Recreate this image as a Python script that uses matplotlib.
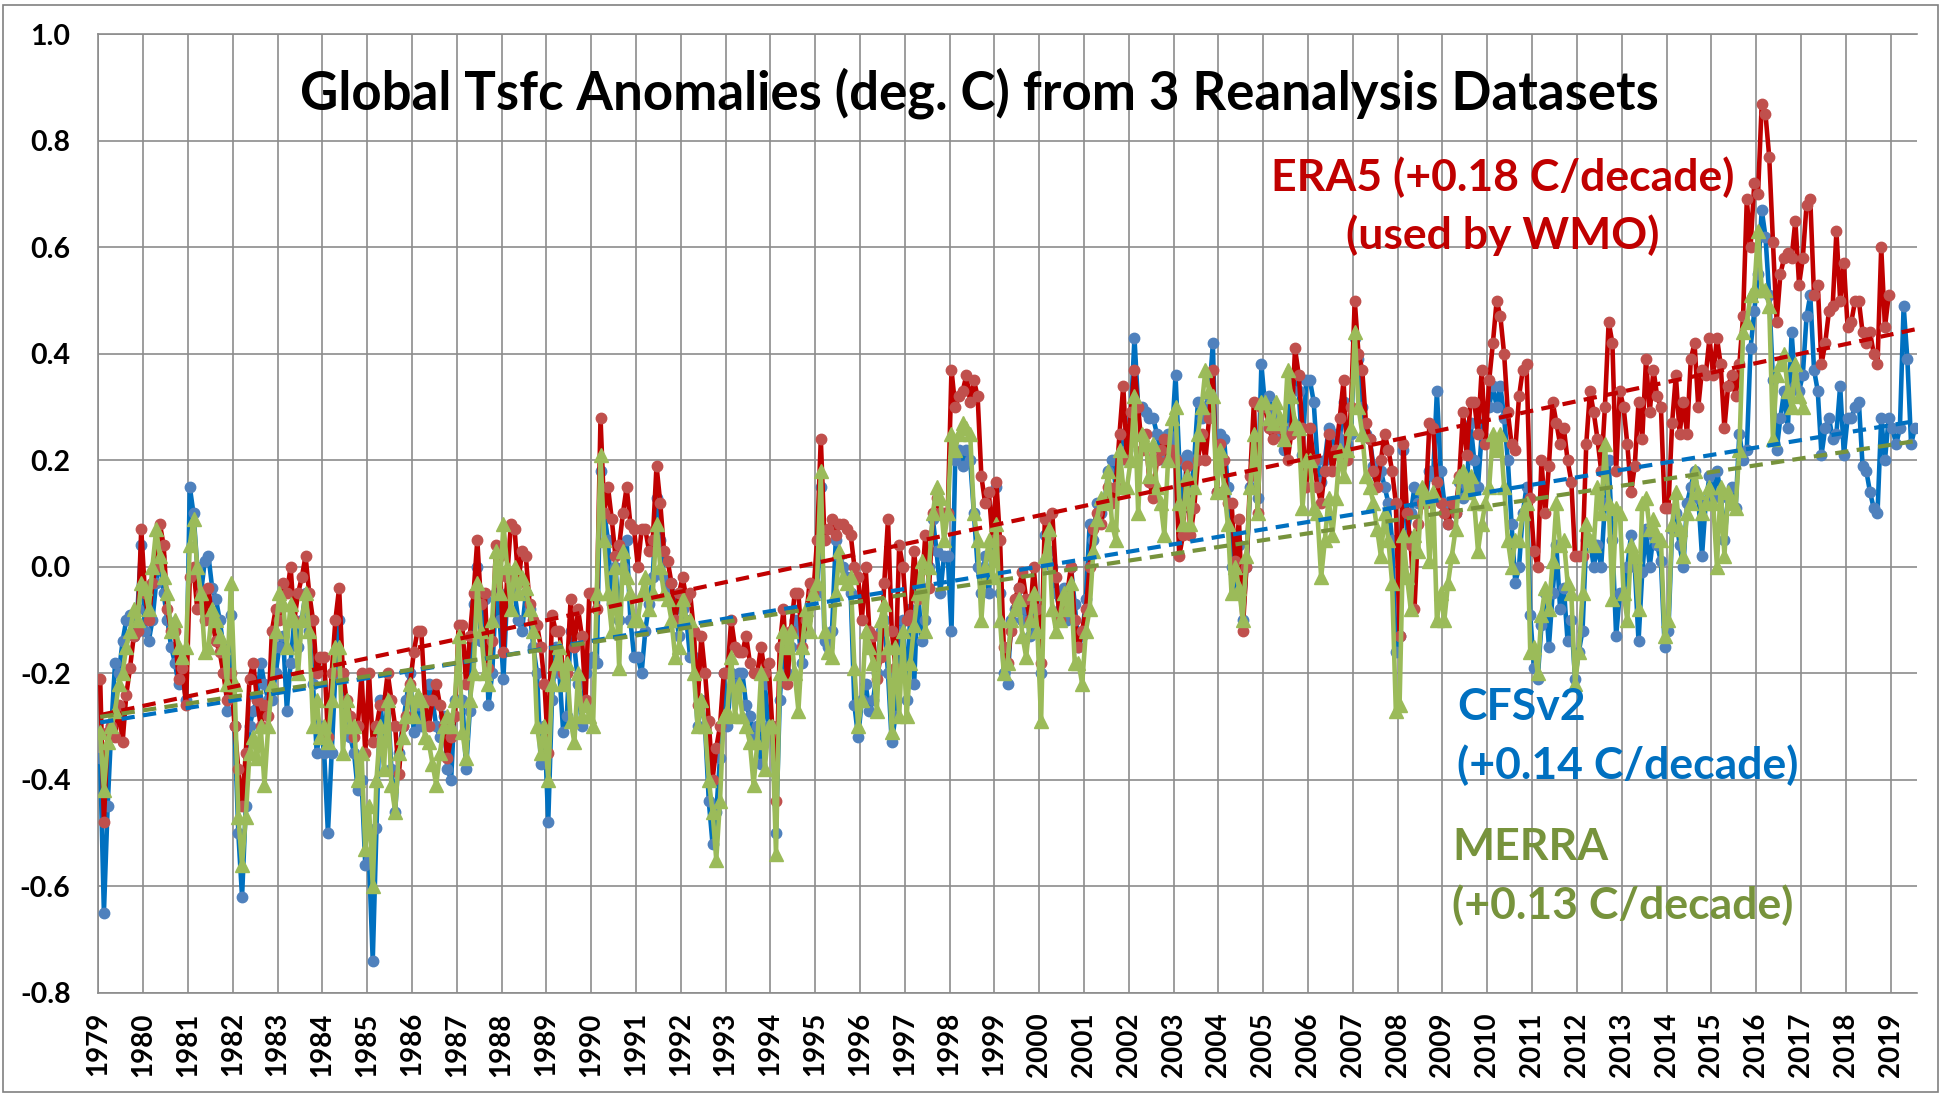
import numpy as np
import matplotlib.pyplot as plt
from matplotlib.patches import Rectangle

plt.rcParams['font.family'] = ['Lato', 'DejaVu Sans']
plt.rcParams['axes.unicode_minus'] = False

# monthly anomalies (deg C), one row per year starting Jan 1979
era5 = [
    -0.21, -0.48, -0.31, -0.30, -0.32, -0.26, -0.33, -0.24, -0.19, -0.13, -0.12, 0.07,
    -0.05, -0.10, -0.03, 0.00, 0.08, 0.04, -0.08, -0.12, -0.12, -0.21, -0.19, -0.26,
    -0.02, 0.00, -0.08, -0.05, -0.10, -0.04, -0.10, -0.14, -0.16, -0.20, -0.25, -0.20,
    -0.30, -0.38, -0.45, -0.35, -0.21, -0.18, -0.25, -0.30, -0.26, -0.28, -0.12, -0.08,
    -0.10, -0.03, -0.05, 0.00, -0.10, -0.05, -0.02, 0.02, -0.05, -0.10, -0.20, -0.17,
    -0.17, -0.32, -0.20, -0.10, -0.04, -0.20, -0.25, -0.28, -0.32, -0.30, -0.20, -0.35,
    -0.20, -0.33, -0.30, -0.26, -0.26, -0.20, -0.25, -0.30, -0.39, -0.30, -0.28, -0.22,
    -0.16, -0.12, -0.12, -0.25, -0.30, -0.25, -0.22, -0.26, -0.30, -0.36, -0.32, -0.28,
    -0.11, -0.11, -0.22, -0.13, -0.05, 0.05, -0.07, -0.05, -0.19, -0.14, 0.04, 0.02,
    -0.16, -0.02, 0.08, 0.07, -0.03, 0.03, 0.02, -0.07, -0.10, -0.11, -0.15, -0.22,
    -0.35, -0.09, -0.12, -0.12, -0.20, -0.20, -0.06, -0.15, -0.08, -0.13, -0.25, -0.05,
    -0.05, -0.08, 0.28, 0.10, 0.15, 0.09, 0.02, 0.04, 0.10, 0.15, 0.08, 0.07,
    0.00, 0.07, 0.07, 0.03, 0.05, 0.19, 0.12, 0.03, 0.01, -0.03, -0.10, -0.05,
    -0.02, -0.06, -0.05, -0.12, -0.26, -0.13, -0.20, -0.29, -0.40, -0.34, -0.30, -0.20,
    -0.20, -0.10, -0.15, -0.16, -0.16, -0.13, -0.18, -0.20, -0.20, -0.15, -0.20, -0.18,
    -0.30, -0.44, -0.15, -0.08, -0.22, -0.12, -0.05, -0.05, -0.15, -0.10, -0.03, -0.05,
    0.05, 0.24, 0.05, 0.07, 0.09, 0.06, 0.08, 0.08, 0.07, 0.06, 0.00, -0.02,
    -0.10, 0.00, -0.12, -0.13, -0.21, -0.17, -0.03, 0.09, -0.12, -0.19, 0.04, 0.00,
    -0.10, -0.09, 0.03, -0.06, -0.04, 0.06, -0.04, 0.10, 0.13, 0.10, 0.10, 0.10,
    0.37, 0.30, 0.32, 0.33, 0.36, 0.31, 0.35, 0.32, 0.17, 0.12, 0.14, 0.05,
    0.16, 0.05, -0.15, -0.18, -0.12, -0.06, -0.04, -0.01, -0.06, -0.10, 0.00, -0.08,
    -0.18, 0.09, 0.06, 0.10, -0.02, -0.10, -0.08, -0.05, 0.00, -0.10, -0.15, -0.12,
    -0.08, 0.00, 0.07, 0.10, 0.08, 0.12, 0.15, 0.12, 0.15, 0.25, 0.34, 0.20,
    0.29, 0.37, 0.30, 0.22, 0.25, 0.16, 0.13, 0.20, 0.22, 0.24, 0.20, 0.22,
    0.20, 0.02, 0.06, 0.19, 0.06, 0.11, 0.20, 0.25, 0.20, 0.28, 0.37, 0.14,
    0.23, 0.20, 0.12, 0.12, 0.01, 0.09, -0.12, 0.00, 0.17, 0.31, 0.10, 0.30,
    0.30, 0.26, 0.24, 0.26, 0.26, 0.24, 0.20, 0.25, 0.41, 0.36, 0.26, 0.15,
    0.26, 0.20, 0.15, 0.12, 0.18, 0.25, 0.18, 0.22, 0.28, 0.35, 0.20, 0.30,
    0.50, 0.40, 0.37, 0.27, 0.24, 0.18, 0.15, 0.20, 0.25, 0.22, 0.18, 0.12,
    -0.13, 0.23, 0.10, 0.04, -0.08, 0.08, 0.12, 0.12, 0.27, 0.26, 0.16, 0.12,
    0.10, 0.08, 0.12, 0.10, 0.17, 0.29, 0.21, 0.31, 0.31, 0.25, 0.37, 0.23,
    0.35, 0.42, 0.50, 0.47, 0.40, 0.29, 0.23, 0.22, 0.32, 0.37, 0.38, 0.13,
    0.03, 0.00, 0.20, 0.10, 0.19, 0.31, 0.27, 0.23, 0.26, 0.20, 0.16, 0.02,
    0.02, 0.02, 0.23, 0.33, 0.29, 0.24, 0.18, 0.30, 0.46, 0.42, 0.18, 0.33,
    0.30, 0.23, 0.14, 0.19, 0.31, 0.24, 0.39, 0.29, 0.37, 0.32, 0.30, 0.11,
    0.11, 0.27, 0.36, 0.25, 0.31, 0.25, 0.39, 0.42, 0.30, 0.37, 0.36, 0.43,
    0.36, 0.43, 0.38, 0.26, 0.34, 0.36, 0.32, 0.38, 0.47, 0.69, 0.60, 0.72,
    0.70, 0.87, 0.85, 0.77, 0.61, 0.46, 0.55, 0.58, 0.59, 0.58, 0.65, 0.53,
    0.58, 0.68, 0.69, 0.51, 0.53, 0.38, 0.42, 0.48, 0.49, 0.63, 0.50, 0.57,
    0.45, 0.46, 0.50, 0.50, 0.44, 0.42, 0.44, 0.40, 0.38, 0.60, 0.45, 0.51,
]

cfsv2 = [
    -0.36, -0.65, -0.45, -0.30, -0.18, -0.20, -0.14, -0.10, -0.09, -0.13, -0.08, 0.04,
    -0.12, -0.14, -0.10, -0.03, 0.02, -0.05, -0.10, -0.15, -0.18, -0.22, -0.20, -0.25,
    0.15, 0.10, 0.00, -0.05, 0.01, 0.02, -0.04, -0.06, -0.10, -0.15, -0.27, -0.09,
    -0.30, -0.50, -0.62, -0.45, -0.30, -0.27, -0.25, -0.18, -0.22, -0.25, -0.25, -0.20,
    -0.15, -0.13, -0.27, -0.18, -0.10, -0.15, -0.10, -0.05, -0.12, -0.22, -0.35, -0.30,
    -0.35, -0.50, -0.35, -0.20, -0.10, -0.20, -0.30, -0.32, -0.35, -0.42, -0.40, -0.56,
    -0.55, -0.74, -0.49, -0.25, -0.33, -0.25, -0.38, -0.46, -0.35, -0.30, -0.25, -0.20,
    -0.31, -0.26, -0.30, -0.28, -0.22, -0.25, -0.30, -0.32, -0.28, -0.38, -0.40, -0.25,
    -0.25, -0.25, -0.38, -0.27, -0.07, 0.00, -0.14, -0.06, -0.26, -0.20, -0.05, -0.10,
    -0.21, -0.05, -0.02, -0.05, -0.10, -0.12, -0.05, -0.08, -0.15, -0.20, -0.37, -0.30,
    -0.48, -0.25, -0.15, -0.20, -0.31, -0.28, -0.12, -0.15, -0.22, -0.30, -0.20, -0.18,
    -0.17, -0.18, 0.18, 0.10, 0.05, -0.07, 0.00, -0.10, 0.00, 0.05, -0.10, -0.17,
    -0.17, -0.20, -0.12, -0.07, -0.02, 0.13, 0.05, -0.02, -0.04, -0.03, -0.08, -0.13,
    -0.08, -0.10, -0.17, -0.17, -0.30, -0.25, -0.30, -0.44, -0.52, -0.46, -0.36, -0.20,
    -0.30, -0.20, -0.22, -0.20, -0.20, -0.26, -0.28, -0.32, -0.30, -0.37, -0.22, -0.30,
    -0.30, -0.50, -0.25, -0.15, -0.20, -0.15, -0.10, -0.12, -0.18, -0.10, -0.07, -0.05,
    -0.05, 0.15, -0.14, -0.15, -0.12, 0.05, 0.02, 0.00, -0.02, -0.05, -0.26, -0.32,
    -0.25, -0.22, -0.27, -0.25, -0.20, -0.12, -0.10, -0.20, -0.33, -0.28, -0.12, -0.10,
    -0.25, -0.08, -0.22, -0.04, -0.14, -0.10, 0.00, 0.09, 0.03, -0.05, 0.02, 0.02,
    -0.12, 0.20, 0.22, 0.19, 0.22, 0.20, 0.10, 0.00, -0.05, 0.02, -0.05, 0.05,
    0.15, -0.05, -0.20, -0.22, -0.10, -0.08, -0.04, -0.10, -0.08, -0.13, -0.06, -0.12,
    -0.20, 0.06, 0.03, 0.00, -0.05, -0.08, -0.04, -0.10, 0.00, -0.07, -0.15, -0.13,
    -0.06, 0.08, 0.05, 0.12, 0.10, 0.12, 0.18, 0.20, 0.15, 0.20, 0.25, 0.22,
    0.28, 0.43, 0.30, 0.30, 0.29, 0.28, 0.28, 0.25, 0.22, 0.20, 0.25, 0.24,
    0.36, 0.20, 0.07, 0.21, 0.11, 0.20, 0.31, 0.28, 0.30, 0.32, 0.42, 0.14,
    0.25, 0.24, 0.15, 0.00, -0.05, 0.04, -0.10, 0.00, 0.15, 0.20, 0.13, 0.38,
    0.30, 0.32, 0.29, 0.28, 0.25, 0.22, 0.26, 0.33, 0.36, 0.33, 0.21, 0.35,
    0.35, 0.31, 0.20, 0.16, 0.20, 0.26, 0.22, 0.25, 0.24, 0.31, 0.23, 0.25,
    0.43, 0.39, 0.30, 0.25, 0.24, 0.19, 0.17, 0.18, 0.15, 0.12, 0.05, -0.16,
    -0.13, 0.22, 0.06, 0.10, 0.15, 0.12, 0.14, 0.12, 0.18, 0.17, 0.33, 0.18,
    0.12, 0.08, 0.11, 0.10, 0.16, 0.13, 0.15, 0.27, 0.20, 0.15, 0.25, 0.30,
    0.30, 0.34, 0.30, 0.34, 0.28, 0.20, 0.08, -0.03, 0.00, 0.10, 0.15, -0.09,
    -0.19, -0.21, -0.11, -0.05, -0.15, -0.05, 0.04, -0.08, -0.04, -0.14, -0.10, -0.21,
    -0.16, -0.12, 0.05, 0.05, 0.00, 0.04, 0.00, 0.12, 0.20, 0.05, -0.13, -0.05,
    -0.05, 0.00, 0.06, 0.00, -0.14, -0.01, 0.07, 0.00, 0.06, 0.04, 0.01, -0.15,
    -0.12, 0.07, 0.10, 0.04, 0.00, 0.12, 0.15, 0.18, 0.13, 0.02, 0.12, 0.17,
    0.13, 0.18, 0.14, 0.05, 0.13, 0.15, 0.11, 0.25, 0.20, 0.22, 0.41, 0.48,
    0.55, 0.67, 0.62, 0.51, 0.35, 0.22, 0.28, 0.33, 0.26, 0.44, 0.34, 0.33,
    0.36, 0.47, 0.51, 0.37, 0.33, 0.21, 0.26, 0.28, 0.24, 0.25, 0.34, 0.21,
    0.28, 0.28, 0.30, 0.31, 0.19, 0.18, 0.14, 0.11, 0.10, 0.28, 0.20, 0.28,
    0.26, 0.23, 0.26, 0.49, 0.39, 0.23, 0.26,
]

merra = [
    -0.31, -0.42, -0.33, -0.30, -0.27, -0.22, -0.20, -0.15, -0.12, -0.08, -0.10, -0.03,
    -0.04, -0.08, 0.00, 0.07, 0.02, -0.02, -0.05, -0.12, -0.10, -0.15, -0.17, -0.15,
    0.04, 0.09, 0.00, -0.05, -0.16, -0.15, -0.08, -0.10, -0.13, -0.15, -0.22, -0.03,
    -0.22, -0.47, -0.56, -0.47, -0.35, -0.32, -0.36, -0.30, -0.41, -0.30, -0.22, -0.12,
    -0.05, -0.07, -0.15, -0.07, -0.10, -0.20, -0.10, -0.05, -0.12, -0.30, -0.25, -0.32,
    -0.30, -0.33, -0.25, -0.15, -0.15, -0.35, -0.25, -0.30, -0.30, -0.40, -0.35, -0.53,
    -0.45, -0.60, -0.40, -0.30, -0.38, -0.25, -0.41, -0.46, -0.35, -0.32, -0.28, -0.22,
    -0.28, -0.24, -0.25, -0.32, -0.33, -0.37, -0.41, -0.35, -0.30, -0.28, -0.30, -0.25,
    -0.13, -0.31, -0.36, -0.25, -0.20, -0.03, -0.12, -0.20, -0.22, -0.10, 0.03, -0.05,
    0.08, 0.00, -0.08, 0.00, -0.05, -0.02, -0.04, -0.08, -0.12, -0.30, -0.35, -0.30,
    -0.40, -0.22, -0.18, -0.15, -0.22, -0.18, -0.29, -0.33, -0.20, -0.28, -0.26, -0.28,
    -0.30, -0.05, 0.21, 0.05, -0.05, -0.12, 0.00, -0.19, 0.03, -0.02, -0.05, -0.10,
    -0.10, -0.05, -0.02, -0.08, -0.05, 0.08, 0.00, -0.05, -0.06, -0.10, -0.17, -0.15,
    -0.06, -0.10, -0.10, -0.20, -0.30, -0.25, -0.30, -0.40, -0.46, -0.55, -0.44, -0.28,
    -0.27, -0.17, -0.28, -0.22, -0.28, -0.30, -0.33, -0.41, -0.33, -0.20, -0.38, -0.30,
    -0.30, -0.54, -0.20, -0.12, -0.15, -0.12, -0.20, -0.27, -0.15, -0.08, -0.12, -0.05,
    -0.03, 0.18, -0.12, -0.16, -0.17, -0.05, 0.03, -0.02, -0.03, -0.02, -0.19, -0.30,
    -0.25, -0.12, -0.15, -0.18, -0.27, -0.10, -0.07, -0.15, -0.31, -0.15, -0.28, -0.12,
    -0.28, -0.18, -0.11, -0.05, 0.01, -0.12, 0.00, 0.10, 0.15, 0.13, 0.05, 0.10,
    0.25, 0.22, 0.25, 0.27, 0.26, 0.25, 0.10, 0.05, -0.10, 0.00, 0.05, -0.02,
    0.08, -0.10, -0.20, -0.18, -0.10, -0.08, -0.06, -0.13, -0.17, -0.10, -0.05, -0.12,
    -0.29, 0.02, 0.07, -0.08, -0.12, -0.10, -0.05, -0.08, -0.03, -0.18, -0.18, -0.22,
    -0.12, -0.08, 0.03, 0.09, 0.13, 0.12, 0.18, 0.08, 0.05, 0.22, 0.15, 0.15,
    0.20, 0.32, 0.10, 0.25, 0.23, 0.17, 0.23, 0.15, 0.12, 0.06, 0.20, 0.28,
    0.30, 0.12, 0.08, 0.17, 0.08, 0.15, 0.25, 0.30, 0.37, 0.33, 0.32, 0.14,
    0.22, 0.15, 0.08, -0.05, 0.00, -0.04, -0.10, 0.02, 0.15, 0.25, 0.10, 0.31,
    0.31, 0.28, 0.27, 0.31, 0.28, 0.24, 0.37, 0.32, 0.27, 0.26, 0.11, 0.20,
    0.20, 0.11, 0.10, -0.02, 0.05, 0.13, 0.06, 0.13, 0.22, 0.17, 0.22, 0.26,
    0.44, 0.30, 0.25, 0.17, 0.15, 0.12, 0.07, 0.02, 0.10, 0.05, -0.03, -0.27,
    -0.26, 0.06, -0.02, -0.08, 0.06, 0.03, 0.15, 0.13, 0.01, 0.14, -0.10, -0.05,
    -0.10, -0.03, 0.02, 0.07, 0.17, 0.18, 0.14, 0.17, 0.12, 0.03, 0.08, 0.12,
    0.15, 0.25, 0.22, 0.25, 0.15, 0.05, 0.00, 0.05, 0.05, 0.10, 0.12, -0.16,
    -0.15, -0.20, -0.09, -0.04, -0.08, 0.01, 0.12, 0.04, 0.05, -0.03, -0.05, -0.22,
    -0.16, -0.05, 0.08, 0.05, 0.04, 0.15, 0.10, 0.23, 0.12, -0.06, 0.11, 0.10,
    -0.05, -0.10, 0.04, 0.02, -0.08, 0.12, 0.13, 0.07, 0.09, 0.06, 0.05, -0.13,
    -0.10, 0.08, 0.14, 0.07, 0.02, 0.10, 0.12, 0.18, 0.14, 0.10, 0.12, 0.15,
    0.12, 0.00, 0.15, 0.02, 0.14, 0.12, 0.11, 0.22, 0.44, 0.46, 0.51, 0.52,
    0.63, 0.52, 0.52, 0.49, 0.24, 0.36, 0.38, 0.40, 0.33, 0.30, 0.38, 0.32,
    0.30,
]

first_year = 1979
last_year = 2019
n_months = 487  # Jan 1979 .. Jul 2019 on the category axis

W, H = 1943, 1097
fig = plt.figure(figsize=(W / 100, H / 100), dpi=100)
ax = fig.add_axes([98.3 / W, 1 - 992.7 / H, (1916.7 - 98.3) / W, (992.7 - 34.3) / H])

series = [
    (cfsv2, '#0070C0', '#4F81BD', 'o', 7.5, 3),
    (era5, '#C00000', '#C0504D', 'o', 7.5, 4),
    (merra, '#9BBB59', '#9BBB59', '^', 9.5, 5),
]
trend_colors = {'#0070C0': '#0070C0', '#C00000': '#C00000', '#9BBB59': '#77933C'}

for vals, lc, mc, mk, ms, z in series:
    x = np.arange(len(vals)) + 0.5
    ax.plot(x, vals, color=lc, lw=3.3, marker=mk, ms=ms, mfc=mc, mec=mc, zorder=z)

# least-squares trend lines, like Excel's linear trendline
for vals, lc, mc, mk, ms, z in series:
    x = np.arange(len(vals)) + 0.5
    k, b = np.polyfit(x, vals, 1)
    xl = np.array([0.5, n_months - 0.5])
    ax.plot(xl, k * xl + b, color=trend_colors[lc], lw=3.0,
            linestyle=(0, (3.2, 2.0)), zorder=6)

ax.set_xlim(0, n_months)
ax.set_ylim(-0.8, 1.0)

years = list(range(first_year, last_year + 1))
ax.set_xticks([12 * i for i in range(len(years))])
ax.set_xticklabels([str(y) for y in years], rotation=90, fontsize=20, fontweight='bold')
yt = np.round(np.arange(-0.8, 1.01, 0.2), 1)
ax.set_yticks(yt)
ax.set_yticklabels(['%.1f' % (abs(v) if abs(v) < 1e-9 else v) for v in yt],
                   fontsize=20.5, fontweight='bold')
ax.tick_params(axis='both', length=0)
ax.tick_params(axis='y', pad=20)
ax.tick_params(axis='x', pad=14)

ax.grid(True, color='#8C8C8C', lw=1.2)
ax.set_axisbelow(True)
for s in ['top', 'bottom', 'left']:
    ax.spines[s].set_color('#8C8C8C')
    ax.spines[s].set_linewidth(1.2)
ax.spines['right'].set_visible(False)

fig.text(979 / W, 1 - 93 / H, 'Global Tsfc Anomalies (deg. C) from 3 Reanalysis Datasets',
         ha='center', va='center', fontsize=38, fontweight='bold', color='black')
fig.text(1503 / W, 1 - 177 / H, 'ERA5 (+0.18 C/decade)', ha='center', va='center',
         fontsize=32, fontweight='bold', color='#C00000')
fig.text(1503 / W, 1 - 235 / H, '(used by WMO)', ha='center', va='center',
         fontsize=32, fontweight='bold', color='#C00000')
fig.text(1457 / W, 1 - 707 / H, 'CFSv2', ha='left', va='center',
         fontsize=32, fontweight='bold', color='#0070C0')
fig.text(1457 / W, 1 - 765 / H, '(+0.14 C/decade)', ha='left', va='center',
         fontsize=32, fontweight='bold', color='#0070C0')
fig.text(1452 / W, 1 - 847 / H, 'MERRA', ha='left', va='center',
         fontsize=32, fontweight='bold', color='#77933C')
fig.text(1452 / W, 1 - 905 / H, '(+0.13 C/decade)', ha='left', va='center',
         fontsize=32, fontweight='bold', color='#77933C')

fig.patches.append(Rectangle((3 / W, 5 / H), 1935 / W, 1087 / H, transform=fig.transFigure,
                             fill=False, edgecolor='#808080', lw=1.2))

fig.savefig('out.png', dpi=100)
